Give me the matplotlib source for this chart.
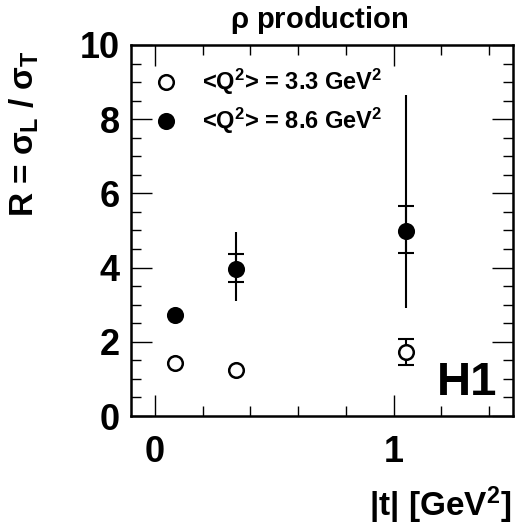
import numpy as np
import matplotlib.pyplot as plt
from matplotlib.ticker import MultipleLocator

plt.rcParams['font.family'] = ['Liberation Sans', 'DejaVu Sans']
plt.rcParams['font.weight'] = 'bold'
plt.rcParams['mathtext.fontset'] = 'custom'
plt.rcParams['mathtext.rm'] = 'Liberation Sans:bold'
plt.rcParams['mathtext.bf'] = 'Liberation Sans:bold'
plt.rcParams['mathtext.it'] = 'Liberation Sans'
plt.rcParams['mathtext.sf'] = 'Liberation Sans'

# |t| bins and R = sigma_L / sigma_T
t_vals = [0.083, 0.34, 1.05]

r_low = [1.43, 1.24, 1.72]          # <Q2> = 3.3 GeV2
stat_low_up = [0.0, 0.0, 0.36]
stat_low_dn = [0.0, 0.0, 0.35]

r_high = [2.72, 3.97, 4.98]         # <Q2> = 8.6 GeV2
stat_high_up = [0.0, 0.40, 0.68]
stat_high_dn = [0.0, 0.36, 0.59]
tot_high_up = [0.0, 0.99, 3.67]
tot_high_dn = [0.0, 0.87, 2.07]

labels = [r'<Q$^{\mathrm{2}}$> = 3.3 GeV$^{\mathrm{2}}$',
          r'<Q$^{\mathrm{2}}$> = 8.6 GeV$^{\mathrm{2}}$']

fig = plt.figure(figsize=(5.15, 5.29), dpi=100)
ax = fig.add_axes([0.2544, 0.2136, 0.7416, 0.7014])

ms = 10.5
# total errors (no caps)
ax.errorbar(t_vals, r_high, yerr=[tot_high_dn, tot_high_up], fmt='none',
            ecolor='black', elinewidth=1.5, capsize=0, zorder=2)
# statistical errors (with ticks)
ax.errorbar(t_vals, r_high, yerr=[stat_high_dn, stat_high_up], fmt='none',
            ecolor='black', elinewidth=1.5, capsize=5.8, capthick=1.5, zorder=2)
ax.errorbar(t_vals, r_low, yerr=[stat_low_dn, stat_low_up], fmt='none',
            ecolor='black', elinewidth=1.5, capsize=5.8, capthick=1.5, zorder=2)

ax.plot(t_vals, r_low, 'o', ms=ms, mfc='white', mec='black', mew=1.8,
        ls='none', zorder=3, label=labels[0])
ax.plot(t_vals, r_high, 'o', ms=ms, mfc='black', mec='black', mew=1.8,
        ls='none', zorder=3, label=labels[1])

ax.set_xlim(-0.1, 1.5)
ax.set_ylim(0, 10)
ax.xaxis.set_major_locator(MultipleLocator(1))
ax.xaxis.set_minor_locator(MultipleLocator(0.2))
ax.yaxis.set_major_locator(MultipleLocator(2))
ax.yaxis.set_minor_locator(MultipleLocator(0.5))

ax.tick_params(which='both', direction='in', top=True, right=True,
               width=1.0, labelsize=26)
ax.tick_params(which='major', length=15)
ax.tick_params(which='minor', length=7.5)
ax.tick_params(axis='x', which='major', pad=14)
ax.tick_params(axis='y', which='major', pad=8)
for lab in ax.get_xticklabels() + ax.get_yticklabels():
    lab.set_fontweight('bold')
for sp in ax.spines.values():
    sp.set_linewidth(1.8)

ax.set_xlabel(r'|t| [GeV$^{\mathrm{2}}$]', fontsize=24, fontweight='bold')
ax.xaxis.set_label_coords(0.995, -0.24)
ax.xaxis.label.set_horizontalalignment('right')
ax.xaxis.label.set_verticalalignment('center')
ax.set_ylabel(r'R = $\sigma_{\mathrm{L}}$ / $\sigma_{\mathrm{T}}$',
              fontsize=24, fontweight='bold')
ax.yaxis.set_label_coords(-0.28, 0.985)
ax.yaxis.label.set_horizontalalignment('right')
ax.yaxis.label.set_verticalalignment('center')

fig.text(0.62, 0.962, r'$\rho$ production', ha='center', va='center',
         fontsize=21, fontweight='bold')

ax.text(0.96, 0.03, 'H1', transform=ax.transAxes, ha='right', va='bottom',
        fontsize=34, fontweight='bold')

ax.legend(loc='upper left', bbox_to_anchor=(0.055, 0.94), frameon=False,
          fontsize=17, handletextpad=0.9, labelspacing=0.35,
          borderaxespad=0, borderpad=0, handlelength=1.2, numpoints=1)

fig.savefig('out.png', dpi=100)
